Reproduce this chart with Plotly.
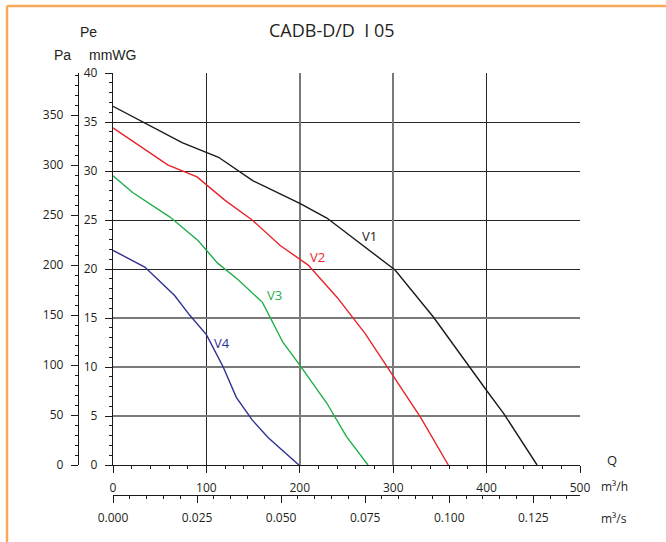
import plotly.graph_objects as go

# ---- data (Q in m3/h, Pe in mmWG) ----
v1_q = [0, 74, 113, 150, 200, 229, 302, 343, 400, 418, 454]
v1_p = [36.6, 32.9, 31.4, 29.0, 26.7, 25.2, 19.9, 15.1, 7.6, 5.3, 0.0]
v2_q = [0, 59, 90, 120, 149, 179, 209, 240, 270, 307, 329, 359]
v2_p = [34.4, 30.6, 29.4, 27.0, 25.0, 22.4, 20.4, 17.1, 13.4, 8.0, 4.9, 0.0]
v3_q = [0, 21, 61, 91, 112, 134, 160, 182, 200, 229, 250, 273]
v3_p = [29.5, 27.8, 25.3, 22.9, 20.6, 18.9, 16.6, 12.5, 10.2, 6.3, 2.9, 0.0]
v4_q = [0, 34, 66, 82, 100, 118, 132, 149, 166, 199]
v4_p = [21.9, 20.2, 17.3, 15.3, 13.3, 10.0, 6.9, 4.6, 2.8, 0.0]
series_names = ["V1", "V2", "V3", "V4"]
label_q = [275, 219, 173, 117]
label_p = [23.4, 21.2, 17.3, 12.5]

q_ticks = [0, 100, 200, 300, 400, 500]
mmwg_ticks = [0, 5, 10, 15, 20, 25, 30, 35, 40]
pa_ticks = [0, 50, 100, 150, 200, 250, 300, 350]
m3s_ticks = [0.0, 0.025, 0.05, 0.075, 0.1, 0.125]

colors = ["#1a1a1a", "#e8232b", "#1fae4b", "#2e3192"]
W, H = 666, 542
MMWG_TO_PA = 9.80665
Q_MAX = 500
P_MAX = 40

def px(x):
    return x / W

def py(y):
    return 1 - y / H

fig = go.Figure()
data = [(v1_q, v1_p), (v2_q, v2_p), (v3_q, v3_p), (v4_q, v4_p)]
for (q, p), c, n in zip(data, colors, series_names):
    fig.add_trace(go.Scatter(x=q, y=p, mode="lines", line=dict(color=c, width=1.4),
                             name=n, showlegend=False, hoverinfo="skip"))
for n, x, y, c in zip(series_names, label_q, label_p, colors):
    fig.add_annotation(x=x, y=y, xref="x", yref="y", text=n, showarrow=False,
                       font=dict(family="Open Sans", size=13, color=c))

xdom = [px(113), px(580)]
ydom = [py(465), py(73)]
tickfont = dict(family="Open Sans", size=12, color="#231f20")

# dummy trace for secondary axes
fig.add_trace(go.Scatter(x=[0], y=[0], xaxis="x2", yaxis="y2", mode="markers",
                         marker=dict(opacity=0), showlegend=False, hoverinfo="skip"))

fig.update_layout(
    width=W, height=H, margin=dict(l=0, r=0, t=0, b=0, pad=0, autoexpand=False),
    paper_bgcolor="white", plot_bgcolor="white",
    xaxis=dict(domain=xdom, range=[0, Q_MAX], tickvals=q_ticks, showgrid=False, automargin=False,
               zeroline=False, showline=True, linecolor="#1a1a1a", linewidth=1.3,
               ticks="outside", ticklen=7, tickcolor="#1a1a1a", tickwidth=1.3,
               minor=dict(dtick=20, ticks="outside", ticklen=3, tickcolor="#1a1a1a", tickwidth=1),
               tickfont=tickfont, ticklabelstandoff=4, anchor="y"),
    yaxis=dict(domain=ydom, range=[0, P_MAX], tickvals=mmwg_ticks, showgrid=False, automargin=False,
               zeroline=False, showline=True, linecolor="#1a1a1a", linewidth=1.3,
               ticks="outside", ticklen=7, tickcolor="#1a1a1a", tickwidth=1.3,
               minor=dict(dtick=1, ticks="outside", ticklen=3, tickcolor="#1a1a1a", tickwidth=1),
               tickfont=tickfont, ticklabelstandoff=5, anchor="x"),
    # grid overlays (dark and grey lines)
    xaxis3=dict(domain=xdom, range=[0, Q_MAX], overlaying="x", tickvals=[100, 400, 500], automargin=False,
                showgrid=True, gridcolor="#262626", gridwidth=1.3, showticklabels=False,
                ticks="", zeroline=False, showline=False, anchor="y"),
    xaxis4=dict(domain=xdom, range=[0, Q_MAX], overlaying="x", tickvals=[200, 300], automargin=False,
                showgrid=True, gridcolor="#7a7a7a", gridwidth=1.6, showticklabels=False,
                ticks="", zeroline=False, showline=False, anchor="y"),
    yaxis3=dict(domain=ydom, range=[0, P_MAX], overlaying="y", tickvals=[20, 25, 30, 35, 40], automargin=False,
                showgrid=True, gridcolor="#262626", gridwidth=1.3, showticklabels=False,
                ticks="", zeroline=False, showline=False, anchor="x"),
    yaxis4=dict(domain=ydom, range=[0, P_MAX], overlaying="y", tickvals=[5, 10, 15], automargin=False,
                showgrid=True, gridcolor="#7a7a7a", gridwidth=1.6, showticklabels=False,
                ticks="", zeroline=False, showline=False, anchor="x"),
    # Pa axis
    yaxis2=dict(domain=ydom, range=[0, P_MAX * MMWG_TO_PA], tickvals=pa_ticks, automargin=False,
                anchor="free", position=px(78), overlaying="y", side="left",
                showgrid=False, zeroline=False, showline=True, linecolor="#1a1a1a", linewidth=1.3,
                ticks="outside", ticklen=7, tickcolor="#1a1a1a", tickwidth=1.3,
                minor=dict(dtick=10, ticks="outside", ticklen=3, tickcolor="#1a1a1a", tickwidth=1),
                tickfont=tickfont, ticklabelstandoff=5),
    # m3/s axis
    xaxis2=dict(domain=xdom, range=[0, Q_MAX / 3600], tickvals=m3s_ticks, automargin=False,
                tickformat=".3f", anchor="free", position=py(495), overlaying="x", side="bottom",
                showgrid=False, zeroline=False, showline=True, linecolor="#1a1a1a", linewidth=1.3,
                ticks="outside", ticklen=7, tickcolor="#1a1a1a", tickwidth=1.3,
                minor=dict(dtick=0.005, ticks="outside", ticklen=3, tickcolor="#1a1a1a", tickwidth=1),
                tickfont=tickfont, ticklabelstandoff=4),
)

for xa, ya in [("x3", "y3"), ("x4", "y4")]:
    fig.add_trace(go.Scatter(x=[0], y=[0], xaxis=xa, yaxis=ya, mode="markers",
                             marker=dict(opacity=0), showlegend=False, hoverinfo="skip"))

labfont = dict(family="Liberation Sans", size=14, color="#231f20")
texts = [
    ("CADB-D/D  I 05", 332, 30, dict(family="Open Sans", size=18, color="#231f20"), "center"),
    ("Pe", 78, 32, labfont, "left"),
    ("Pa", 52, 55, labfont, "left"),
    ("mmWG", 87, 55, labfont, "left"),
    ("Q", 605, 460, dict(family="Open Sans", size=13, color="#231f20"), "left"),
    ("m³/h", 599, 486, dict(family="Open Sans", size=12, color="#231f20"), "left"),
    ("m³/s", 599, 518, dict(family="Open Sans", size=12, color="#231f20"), "left"),
]
for t, x, y, f, anc in texts:
    fig.add_annotation(x=px(x), y=py(y), xref="paper", yref="paper", text=t, showarrow=False,
                       xanchor=anc, yanchor="middle", font=f)

# orange frame
orange = "#f9a75b"
fig.add_shape(type="line", xref="paper", yref="paper", x0=px(7), x1=1.0, y0=py(6), y1=py(6),
              line=dict(color=orange, width=2.5))
fig.add_shape(type="line", xref="paper", yref="paper", x0=px(7), x1=px(7), y0=py(6), y1=0,
              line=dict(color=orange, width=2.5))

fig.write_html("out.html", config={"displayModeBar": False},
               post_script="document.body.style.margin='0px';document.body.style.overflow='hidden';")
